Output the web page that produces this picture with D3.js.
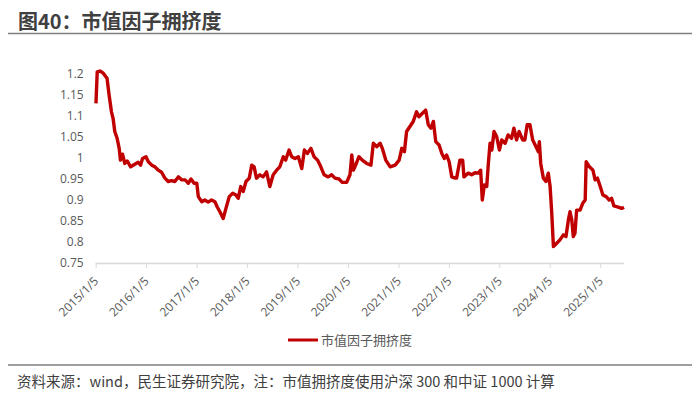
<!DOCTYPE html>
<html>
<head>
<meta charset="utf-8">
<script src="https://cdn.jsdelivr.net/npm/d3@7"></script>
<style>
  body { margin: 0; background: #fff; }
  svg text { font-family: "Microsoft YaHei", "Noto Sans CJK SC", sans-serif; }
</style>
</head>
<body>
<div id="chart"></div>
<script>
// values
const dates = [
  "2015-01-07","2015-01-16","2015-02-05","2015-03-01","2015-03-18","2015-03-28","2015-04-12","2015-04-29",
  "2015-05-11","2015-05-23","2015-06-09","2015-06-24","2015-07-03","2015-07-18","2015-08-04","2015-08-21",
  "2015-09-15","2015-10-15","2015-11-09","2015-11-26","2015-12-10","2016-01-04","2016-01-21","2016-02-15",
  "2016-03-08","2016-04-02","2016-04-26","2016-05-20","2016-06-13","2016-07-07","2016-07-31","2016-08-25",
  "2016-09-19","2016-10-13","2016-11-06","2016-11-25","2016-12-17","2017-01-06","2017-01-17","2017-02-11",
  "2017-03-05","2017-03-29","2017-04-23","2017-05-17","2017-06-02","2017-06-22","2017-07-16","2017-08-05",
  "2017-08-29","2017-09-23","2017-10-16","2017-11-02","2017-11-20","2017-12-08","2017-12-28","2018-01-21",
  "2018-02-08","2018-02-25","2018-03-14","2018-04-08","2018-05-01","2018-05-26","2018-06-19","2018-07-13",
  "2018-08-07","2018-08-30","2018-09-24","2018-10-11","2018-11-05","2018-11-24","2018-12-18","2019-01-11",
  "2019-02-05","2019-02-24","2019-03-18","2019-04-12","2019-05-05","2019-05-30","2019-06-23","2019-07-17",
  "2019-08-15","2019-09-09","2019-10-03","2019-11-01","2019-11-25","2019-12-27","2020-01-20","2020-02-02",
  "2020-02-14","2020-03-01","2020-03-25","2020-04-18","2020-05-20","2020-06-20","2020-07-07","2020-07-31",
  "2020-08-25","2020-09-10","2020-10-05","2020-11-06","2020-12-12","2021-01-10","2021-01-29","2021-02-17",
  "2021-03-05","2021-03-29","2021-04-22","2021-05-16","2021-06-02","2021-06-26","2021-07-21","2021-08-09",
  "2021-08-28","2021-09-15","2021-10-02","2021-10-26","2021-11-15","2021-12-03","2021-12-20","2022-01-07",
  "2022-01-26","2022-02-19","2022-03-02","2022-03-26","2022-04-15","2022-04-24","2022-05-25","2022-06-19",
  "2022-07-13","2022-08-06","2022-08-23","2022-09-04","2022-09-19","2022-10-06","2022-10-18","2022-10-30",
  "2022-11-12","2022-11-28","2022-12-17","2023-01-06","2023-01-23","2023-02-16","2023-03-10","2023-04-04",
  "2023-04-21","2023-05-10","2023-05-29","2023-06-23","2023-07-09","2023-07-26","2023-08-15","2023-09-04",
  "2023-09-28","2023-10-15","2023-10-22","2023-11-01","2023-11-20","2023-12-09","2023-12-26","2024-01-08",
  "2024-01-20","2024-02-01","2024-02-25","2024-03-19","2024-04-13","2024-05-02","2024-05-19","2024-05-31",
  "2024-06-13","2024-06-24","2024-07-06","2024-07-18","2024-08-12","2024-08-31","2024-09-18","2024-09-25",
  "2024-10-19","2024-11-13","2024-11-29","2024-12-16","2025-01-05","2025-01-24","2025-02-17","2025-03-11",
  "2025-03-28","2025-04-14","2025-05-15","2025-06-09","2025-06-26"
];
const crowding = [
  1.130,1.205,1.207,1.202,1.194,1.190,1.150,1.110,
  1.094,1.063,1.047,1.023,0.995,1.009,0.987,0.993,
  0.979,0.985,0.990,0.983,0.999,1.003,0.991,0.983,
  0.979,0.971,0.966,0.952,0.944,0.946,0.944,0.955,
  0.948,0.948,0.940,0.950,0.940,0.940,0.908,0.896,
  0.900,0.895,0.900,0.896,0.884,0.872,0.856,0.880,
  0.908,0.916,0.912,0.904,0.932,0.920,0.944,0.952,
  0.983,0.979,0.952,0.960,0.955,0.967,0.932,0.960,
  0.971,0.979,1.003,0.995,1.019,1.003,0.999,1.003,
  0.975,1.019,1.011,1.023,1.003,0.995,0.979,0.960,
  0.955,0.960,0.952,0.950,0.942,0.942,0.960,1.007,
  0.971,0.983,1.003,0.995,0.987,0.983,1.035,1.027,
  1.035,1.023,0.995,0.979,0.983,0.995,1.023,1.015,
  1.063,1.075,1.087,1.110,1.098,1.106,1.114,1.079,
  1.071,1.087,1.039,1.031,1.011,0.999,1.007,0.991,
  0.955,0.952,0.952,0.995,0.995,0.955,0.964,0.960,
  0.965,0.964,0.971,0.900,0.936,0.932,0.987,1.035,
  1.019,1.063,1.051,1.019,1.043,1.035,1.055,1.047,
  1.071,1.043,1.063,1.043,1.043,1.079,1.079,1.043,
  1.027,1.015,1.039,0.987,0.952,0.944,0.964,0.932,
  0.868,0.789,0.797,0.805,0.817,0.813,0.852,0.872,
  0.852,0.813,0.821,0.876,0.876,0.892,0.900,0.991,
  0.979,0.971,0.948,0.952,0.932,0.912,0.908,0.900,
  0.904,0.886,0.883,0.880,0.883
];
const yTicks = [0.75, 0.8, 0.85, 0.9, 0.95, 1, 1.05, 1.1, 1.15, 1.2];
const xTickLabels = ["2015/1/5","2016/1/5","2017/1/5","2018/1/5","2019/1/5","2020/1/5",
                     "2021/1/5","2022/1/5","2023/1/5","2024/1/5","2025/1/5"];
const seriesName = "市值因子拥挤度";
const titleText = "图40：市值因子拥挤度";
const sourceText = "资料来源：wind，民生证券研究院，注：市值拥挤度使用沪深 300 和中证 1000 计算";

const width = 700, height = 394;
const plot = {left: 95.7, right: 624, top: 74, bottom: 263};
const red = "#C00000";

const parse = d3.timeParse("%Y-%m-%d");
const data = dates.map((d, i) => ({date: parse(d), value: crowding[i]}));
const tickDates = xTickLabels.map(s => d3.timeParse("%Y/%m/%d")(s));

const svg = d3.select("#chart").append("svg")
  .attr("width", width)
  .attr("height", height);

// title + rule
svg.append("text")
  .attr("x", 18).attr("y", 29)
  .attr("font-size", 20).attr("font-weight", "bold")
  .attr("fill", "#404040")
  .text(titleText);
svg.append("line")
  .attr("x1", 8).attr("x2", 692).attr("y1", 33.5).attr("y2", 33.5)
  .attr("stroke", "#7f7f7f").attr("stroke-width", 1.5);

const x = d3.scaleTime()
  .domain([parse("2015-01-05"), parse("2025-06-26")])
  .range([plot.left, plot.right]);
const y = d3.scaleLinear()
  .domain([0.75, 1.2])
  .range([plot.bottom, plot.top]);

// y axis: labels only
const yAxis = svg.append("g")
  .attr("transform", `translate(${plot.left - 12},0)`)
  .call(d3.axisLeft(y).tickValues(yTicks).tickSize(0).tickFormat(d3.format("")));
yAxis.select(".domain").remove();
yAxis.selectAll("text")
  .attr("x", 0)
  .attr("font-size", 12)
  .attr("fill", "#595959")
  .style("font-family", "'Open Sans', 'Noto Sans', sans-serif");

// x axis
const xAxis = svg.append("g")
  .attr("transform", `translate(0,${plot.bottom})`)
  .call(d3.axisBottom(x).tickValues(tickDates).tickSize(5)
    .tickFormat((d, i) => xTickLabels[i]));
xAxis.select(".domain").attr("stroke", "#d9d9d9").attr("stroke-width", 1.5)
  .attr("d", `M${plot.left},0.5H${plot.right}`);
xAxis.selectAll(".tick line").attr("stroke", "#d9d9d9").attr("stroke-width", 1);
xAxis.selectAll("text")
  .attr("font-size", 12)
  .attr("fill", "#595959")
  .style("font-family", "'Open Sans', 'Noto Sans', sans-serif")
  .attr("text-anchor", "end")
  .attr("x", 0).attr("y", 0).attr("dy", 0)
  .attr("transform", "translate(3,19) rotate(-45)");

// series line
const line = d3.line()
  .x(d => x(d.date))
  .y(d => y(d.value));
svg.append("path")
  .datum(data)
  .attr("fill", "none")
  .attr("stroke", red)
  .attr("stroke-width", 3.4)
  .attr("stroke-linejoin", "round")
  .attr("d", line);

// legend
svg.append("line")
  .attr("x1", 288).attr("x2", 318).attr("y1", 340).attr("y2", 340)
  .attr("stroke", red).attr("stroke-width", 3);
svg.append("text")
  .attr("x", 321).attr("y", 345)
  .attr("font-size", 13).attr("fill", "#595959")
  .text(seriesName);

// footer
svg.append("line")
  .attr("x1", 8).attr("x2", 692).attr("y1", 365).attr("y2", 365)
  .attr("stroke", "#7f7f7f").attr("stroke-width", 1.5);
svg.append("text")
  .attr("x", 17).attr("y", 387)
  .attr("font-size", 14.5).attr("fill", "#404040")
  .text(sourceText);
</script>
</body>
</html>
